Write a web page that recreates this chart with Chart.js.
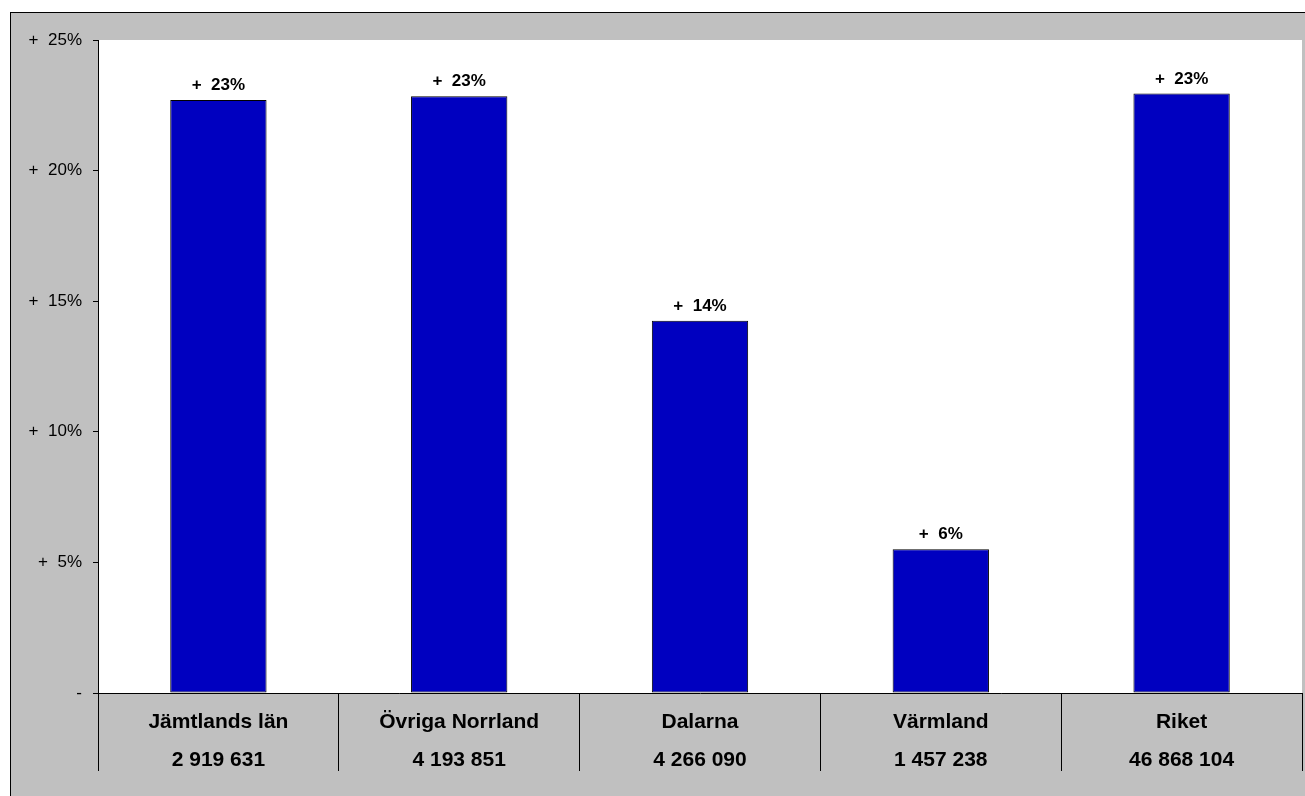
<!DOCTYPE html>
<html>
<head>
<meta charset="utf-8">
<script src="https://cdn.jsdelivr.net/npm/chart.js@4/dist/chart.umd.min.js"></script>
<style>
  html, body { margin: 0; padding: 0; background: #fff; }
  canvas { display: block; }
</style>
</head>
<body>
<canvas id="chart" width="1305" height="796"></canvas>
<script>
// regioner + befolkning (två rader per kategori)
var regioner = ['Jämtlands län', 'Övriga Norrland', 'Dalarna', 'Värmland', 'Riket'];
var antal = ['2 919 631', '4 193 851', '4 266 090', '1 457 238', '46 868 104'];
// förändring i procent
var andring = [22.7, 22.85, 14.25, 5.5, 22.95];
var andringText = ['+  23%', '+  23%', '+  14%', '+  6%', '+  23%'];
// y-axelns etiketter, 0..25 steg 5
var yEtiketter = ['-', '+  5%', '+  10%', '+  15%', '+  20%', '+  25%'];

var GRA = '#c0c0c0';
var BLA = '#0000c0';
var FONT = '"Liberation Sans", Arial, sans-serif';

var bakgrund = {
    id: 'bakgrund',
    beforeDraw: function (chart) {
        var ctx = chart.ctx, a = chart.chartArea;
        ctx.save();
        ctx.fillStyle = '#fff';
        ctx.fillRect(0, 0, chart.width, chart.height);
        ctx.fillStyle = GRA;
        ctx.fillRect(10, 12, chart.width, chart.height);
        ctx.strokeStyle = '#000';
        ctx.lineWidth = 1;
        ctx.strokeRect(10.5, 12.5, chart.width + 10, chart.height + 10);
        ctx.fillStyle = '#fff';
        ctx.fillRect(a.left, a.top, a.right - a.left, a.bottom - a.top);
        ctx.restore();
    }
};

var stapelText = {
    id: 'stapelText',
    afterDatasetsDraw: function (chart) {
        var ctx = chart.ctx;
        var meta = chart.getDatasetMeta(0);
        ctx.save();
        ctx.font = 'bold 17px ' + FONT;
        ctx.fillStyle = '#000';
        ctx.textAlign = 'center';
        ctx.textBaseline = 'alphabetic';
        meta.data.forEach(function (bar, i) {
            ctx.fillText(andringText[i], bar.x, bar.y - 10);
        });
        ctx.restore();
    }
};

new Chart(document.getElementById('chart'), {
    type: 'bar',
    data: {
        labels: regioner.map(function (r, i) { return [r, antal[i]]; }),
        datasets: [{
            data: andring,
            backgroundColor: BLA,
            borderColor: '#000',
            borderWidth: 1,
            borderSkipped: false,
            categoryPercentage: 1,
            barPercentage: 0.4
        }]
    },
    options: {
        responsive: false,
        animation: false,
        layout: { padding: { top: 40, right: 3, left: 0, bottom: 0 } },
        plugins: { legend: { display: false }, tooltip: { enabled: false } },
        scales: {
            x: {
                offset: true,
                afterFit: function (s) { s.height = 103; },
                border: { display: true, color: '#000', width: 1 },
                grid: {
                    offset: true,
                    drawOnChartArea: false,
                    drawTicks: true,
                    tickLength: 78,
                    color: '#000'
                },
                ticks: {
                    autoSkip: false,
                    maxRotation: 0,
                    padding: -68,
                    color: '#000',
                    font: { family: FONT, size: 21, weight: 'bold', lineHeight: '38px' }
                }
            },
            y: {
                min: 0,
                max: 25,
                afterFit: function (s) { s.width = 98; },
                border: { display: true, color: '#000', width: 1 },
                grid: {
                    drawOnChartArea: false,
                    drawTicks: true,
                    tickLength: 5,
                    color: '#000'
                },
                ticks: {
                    stepSize: 5,
                    padding: 11,
                    color: '#000',
                    font: { family: FONT, size: 17 },
                    callback: function (v, i) { return yEtiketter[i]; }
                }
            }
        }
    },
    plugins: [bakgrund, stapelText]
});
</script>
</body>
</html>
